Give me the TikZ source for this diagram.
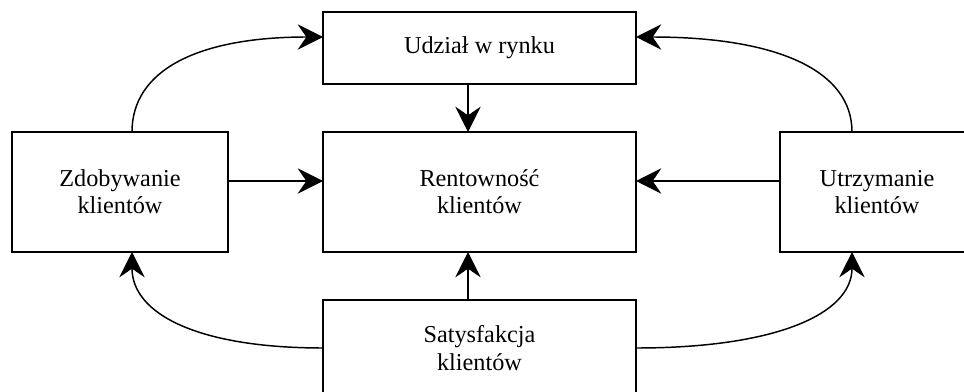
\documentclass[tikz,border=0pt]{standalone}
\usepackage{fontspec}
\setmainfont{Liberation Serif}
\usetikzlibrary{arrows.meta}
\tikzset{
  box/.style={draw, line width=1.1pt, inner sep=0pt, outer sep=0pt, align=center,
    font=\fontsize{18.2}{20.5}\selectfont},
  conn/.style={line width=1.1pt, -{Stealth[length=19pt, width=19pt, inset=6.5pt]}}
}
\begin{document}
\begin{tikzpicture}[x=0.75pt, y=-0.75pt]
\useasboundingbox (0,0) rectangle (964,392);
\clip (0,0) rectangle (964,392);
\node[box, minimum width=234.75pt, minimum height=54pt] (top) at (479.5,48) {Udział w rynku};
\node[box, minimum width=234.75pt, minimum height=90pt] (mid) at (479.5,192) {Rentowność\\klientów};
\node[box, minimum width=234.75pt, minimum height=72pt] (bot) at (479.5,348) {Satysfakcja\\klientów};
\node[box, minimum width=162pt, minimum height=90pt] (lft) at (120,192) {Zdobywanie\\klientów};
\node[box, minimum width=145.5pt, minimum height=90pt] (rgt) at (877,192) {Utrzymanie\\klientów};
\coordinate (vx) at (468,0);
\coordinate (hy) at (0,181);
\coordinate (ty) at (0,37);
\coordinate (lx) at (132,0);
\coordinate (rx) at (852,0);
\draw[conn] (top.south -| vx) -- (mid.north -| vx);
\draw[conn] (bot.north -| vx) -- (mid.south -| vx);
\draw[conn] (lft.east |- hy) -- (mid.west |- hy);
\draw[conn] (rgt.west |- hy) -- (mid.east |- hy);
\draw[conn] (lft.north -| lx) .. controls +(0,-62) and +(-125,0) .. (top.west |- ty);
\draw[conn] (rgt.north -| rx) .. controls +(0,-62) and +(140,0) .. (top.east |- ty);
\draw[conn] (bot.west) .. controls +(-125,0) and +(0,62) .. (lft.south -| lx);
\draw[conn] (bot.east) .. controls +(140,0) and +(0,62) .. (rgt.south -| rx);
\end{tikzpicture}
\end{document}
